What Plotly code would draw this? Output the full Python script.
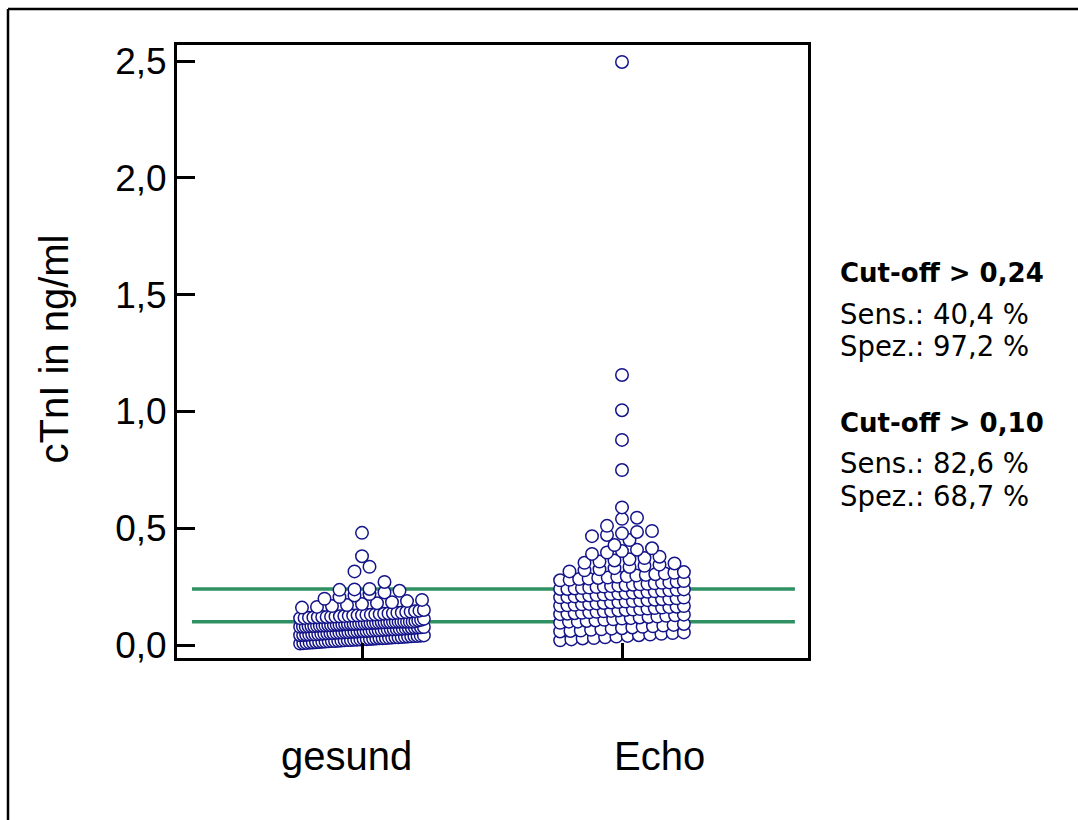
import numpy as np
import plotly.graph_objects as go

# cTnI (ng/ml) per group
groups = ["gesund", "Echo"]

gesund = [
    0.006, 0.008, 0.009, 0.010, 0.011, 0.012, 0.013, 0.014, 0.015, 0.016,
    0.017, 0.017, 0.018, 0.019, 0.020, 0.021, 0.021, 0.022, 0.023, 0.024,
    0.025, 0.025, 0.026, 0.027, 0.028, 0.029, 0.029, 0.030, 0.031, 0.032,
    0.033, 0.033, 0.034, 0.035, 0.036, 0.037, 0.038, 0.039, 0.040, 0.041,
    0.042, 0.043, 0.044, 0.045, 0.046, 0.046, 0.047, 0.048, 0.049, 0.050,
    0.051, 0.051, 0.052, 0.053, 0.054, 0.055, 0.055, 0.056, 0.057, 0.058,
    0.059, 0.059, 0.060, 0.061, 0.062, 0.063, 0.063, 0.064, 0.065, 0.066,
    0.067, 0.067, 0.068, 0.069, 0.070, 0.071, 0.072, 0.073, 0.074, 0.075,
    0.076, 0.077,
    0.078, 0.079, 0.079, 0.080, 0.081, 0.081, 0.082, 0.083, 0.083, 0.084,
    0.085, 0.085, 0.086, 0.087, 0.087, 0.088, 0.089, 0.089, 0.090, 0.090,
    0.091, 0.092, 0.092, 0.093, 0.094, 0.094, 0.095, 0.095, 0.096, 0.097,
    0.097, 0.098, 0.098, 0.099, 0.099, 0.100, 0.100, 0.100, 0.100, 0.100,
    0.100, 0.102, 0.105, 0.108, 0.112,
    0.115, 0.116, 0.117, 0.118, 0.119, 0.120, 0.120, 0.121, 0.122, 0.123,
    0.124, 0.125, 0.126, 0.127, 0.128, 0.129, 0.130, 0.131, 0.132, 0.134,
    0.135, 0.136, 0.138, 0.139, 0.141, 0.143, 0.145, 0.147, 0.150,
    0.160, 0.163, 0.167, 0.171, 0.175, 0.179, 0.183, 0.188, 0.193,
    0.198, 0.205, 0.212, 0.218, 0.225, 0.232,
    0.236, 0.238, 0.240, 0.270,
    0.315, 0.335, 0.380, 0.480,
]

echo = [
    0.020, 0.024, 0.028, 0.030, 0.033, 0.036, 0.039, 0.042, 0.045, 0.048,
    0.051, 0.054,
    0.058, 0.060, 0.062, 0.065, 0.067, 0.070, 0.072, 0.075, 0.078, 0.080,
    0.083, 0.086, 0.090,
    0.095, 0.100, 0.100, 0.103, 0.105, 0.108, 0.110, 0.113, 0.115, 0.118,
    0.120, 0.122, 0.125, 0.127, 0.130,
    0.132, 0.134, 0.136, 0.138, 0.140, 0.142, 0.144, 0.146, 0.148, 0.150,
    0.152, 0.154, 0.156, 0.158, 0.160, 0.162, 0.164, 0.167,
    0.168, 0.170, 0.172, 0.174, 0.176, 0.178, 0.180, 0.182, 0.184, 0.186,
    0.188, 0.190, 0.192, 0.194, 0.196, 0.198, 0.200, 0.203,
    0.204, 0.206, 0.208, 0.210, 0.212, 0.214, 0.216, 0.218, 0.220, 0.222,
    0.224, 0.226, 0.228, 0.230, 0.232, 0.234, 0.236, 0.238,
    0.240, 0.240, 0.242, 0.244, 0.246, 0.248, 0.250, 0.252, 0.254, 0.256,
    0.258, 0.260, 0.262, 0.264, 0.266, 0.268, 0.271, 0.274,
    0.277, 0.279, 0.282, 0.284, 0.287, 0.289, 0.292, 0.294, 0.297, 0.300,
    0.303, 0.306, 0.309, 0.312,
    0.315, 0.320, 0.324, 0.329, 0.334, 0.339, 0.344, 0.349,
    0.352, 0.357, 0.362, 0.367, 0.372, 0.378,
    0.390, 0.396, 0.402, 0.408, 0.414,
    0.428, 0.449, 0.466, 0.471, 0.478, 0.484, 0.488, 0.510, 0.540, 0.545,
    0.589,
    0.749, 0.878, 1.005, 1.156, 2.496,
]

cutoffs = [0.24, 0.10]
y_ticks = [0.0, 0.5, 1.0, 1.5, 2.0, 2.5]
info_lines = [
    ("<b>Cut-off > 0,24</b>", 273),
    ("Sens.: 40,4 %", 314),
    ("Spez.: 97,2 %", 345.5),
    ("<b>Cut-off > 0,10</b>", 422.5),
    ("Sens.: 82,6 %", 462.5),
    ("Spez.: 68,7 %", 496),
]

W, H = 1078, 820
ML, MR, MT, MB = 177, 270, 45, 162
PW, PH = W - ML - MR, H - MT - MB


def px(xp):
    return (xp - ML) / PW


def py(yp):
    return (H - MB - yp) / PH


def swarm(values, row_h=0.036, half=0.238, step_max=0.0577):
    """Group sorted values into horizontal rows and spread each row sideways."""
    v = np.sort(np.asarray(values, dtype=float))
    offs = np.zeros(len(v))
    i = 0
    while i < len(v):
        j = i
        while j < len(v) and v[j] < v[i] + row_h - 1e-9:
            j += 1
        n = j - i
        if n > 1:
            step = min(step_max, 2 * half / (n - 1))
            offs[i:j] = (np.arange(n) - (n - 1) / 2) * step
        i = j
    return v, offs


FONT = "Liberation Sans, Arial, Helvetica, sans-serif"
NAVY = "#14148a"
GREEN = "#2f9163"

fig = go.Figure()
for k, vals in enumerate([gesund, echo], start=1):
    yv, off = swarm(vals)
    fig.add_trace(go.Scatter(
        x=k + off, y=yv, mode="markers", name=groups[k - 1],
        marker=dict(symbol="circle", size=12.5, color="white",
                    line=dict(color=NAVY, width=1.5)),
        showlegend=False, cliponaxis=False,
    ))

for c in cutoffs:
    fig.add_shape(type="line", xref="x", yref="y", x0=0.346, x1=2.665,
                  y0=c, y1=c, line=dict(color=GREEN, width=3.5), layer="below")

# outer frame: left and top edges
fig.add_shape(type="line", xref="paper", yref="paper",
              x0=px(8), x1=px(8), y0=py(9), y1=py(840),
              line=dict(color="black", width=2.5))
fig.add_shape(type="line", xref="paper", yref="paper",
              x0=px(8), x1=px(1100), y0=py(9), y1=py(9),
              line=dict(color="black", width=2.5))

for i, g in enumerate(groups):
    cx = [346.5, 659][i]
    fig.add_annotation(text=g, xref="paper", yref="paper", x=px(cx), y=py(756),
                       xanchor="center", yanchor="middle", showarrow=False,
                       font=dict(family=FONT, size=40, color="black"))

fig.add_annotation(text="cTnI in ng/ml", xref="paper", yref="paper",
                   x=px(53), y=py(349.5), textangle=-90, showarrow=False,
                   xanchor="center", yanchor="middle",
                   font=dict(family=FONT, size=40, color="black"))

for txt, yy in info_lines:
    bold = txt.startswith("<b>")
    fig.add_annotation(text=txt, xref="paper", yref="paper", x=px(838), y=py(yy),
                       xanchor="left", yanchor="middle", showarrow=False,
                       font=dict(family="DejaVu Sans, sans-serif",
                                 size=26 if bold else 27.5, color="black"))

fig.update_layout(
    width=W, height=H,
    margin=dict(l=ML, r=MR, t=MT, b=MB, pad=0),
    paper_bgcolor="white", plot_bgcolor="white",
    separators=",.",
    showlegend=False,
    xaxis=dict(range=[1 - (362 - ML) / 260, 2 + (W - MR - 622) / 260],
               tickvals=[1, 2], showticklabels=False,
               ticks="inside", ticklen=15, tickwidth=3, tickcolor="black",
               showline=True, linewidth=3, linecolor="black", mirror=True,
               showgrid=False, zeroline=False),
    yaxis=dict(range=[-(H - MB - 645) / 233.6, 2.5 + (61 - MT) / 233.6],
               tickvals=y_ticks, tickformat=".1f",
               ticks="inside", ticklen=18, tickwidth=3, tickcolor="black",
               tickfont=dict(family=FONT, size=37, color="black"),
               showline=True, linewidth=3, linecolor="black", mirror=True,
               showgrid=False, zeroline=False),
)

fig.write_html("out.html")
